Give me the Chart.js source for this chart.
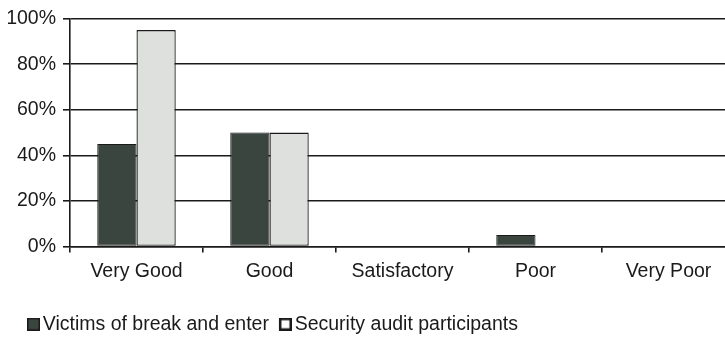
<!DOCTYPE html>
<html>
<head>
<meta charset="utf-8">
<script src="https://cdn.jsdelivr.net/npm/chart.js@4/dist/chart.umd.min.js"></script>
<style>
  html, body { margin: 0; padding: 0; background: #fff; overflow: hidden; width: 725px; height: 337px; }
  #wrap { width: 735px; height: 344px; }
</style>
</head>
<body>
<div id="wrap"><canvas id="ratingChart"></canvas></div>
<script>
'use strict';

const ratings = ['Very Good', 'Good', 'Satisfactory', 'Poor', 'Very Poor'];
const victims = [45, 50, 0, 5, 0];
const auditors = [95, 50, 0, 0, 0];
const yTicks = [0, 20, 40, 60, 80, 100];

const ink = '#1a1a1a';
const darkFill = '#3b4540';
const lightFill = '#dee0de';
Chart.defaults.font.family = '"Liberation Sans", Arial, sans-serif';
Chart.defaults.font.size = 19.5;
Chart.defaults.color = ink;

// legend swatches: box sits at the right of a small canvas so the
// label text starts just past it
function makeSwatch(fill, border, lw) {
  let c = document.createElement('canvas');
  c.width = 20; c.height = 13;
  let g = c.getContext('2d');
  g.fillStyle = fill;
  g.fillRect(7, 0, 13, 13);
  g.strokeStyle = border;
  g.lineWidth = lw;
  g.strokeRect(7 + lw / 2, lw / 2, 13 - lw, 13 - lw);
  return c;
}
const legendMarks = [
  makeSwatch(darkFill, ink, 1.5),
  makeSwatch('#ffffff', ink, 2.5)
];

// nudge the legend right of the canvas edge
const legendShift = {
  id: 'legendShift',
  afterLayout: function(chart) {
    chart.legend.left += 9;
    chart.legend.right += 9;
  }
};

let ctx = document.getElementById('ratingChart').getContext('2d');

new Chart(ctx, {
  type: 'bar',
  data: {
    labels: ratings,
    datasets: [
      {
        label: 'Victims of break and enter',
        data: victims,
        backgroundColor: darkFill,
        borderColor: ink,
        borderWidth: 1,
        borderSkipped: false
      },
      {
        label: 'Security audit participants',
        data: auditors,
        backgroundColor: lightFill,
        borderColor: ink,
        borderWidth: 1.3,
        borderSkipped: false
      }
    ]
  },
  plugins: [legendShift],
  options: {
    responsive: true,
    maintainAspectRatio: false,
    animation: false,
    categoryPercentage: 0.59,
    barPercentage: 1.0,
    layout: { padding: { left: 8, top: 8, right: 0, bottom: 0 } },
    plugins: {
      tooltip: { enabled: false },
      legend: {
        position: 'bottom',
        align: 'start',
        labels: {
          usePointStyle: true,
          pointStyleWidth: 6,
          boxHeight: 13,
          padding: 10,
          color: ink,
          generateLabels: function(chart) {
            let items = Chart.defaults.plugins.legend.labels.generateLabels(chart);
            items.forEach((item, i) => { item.pointStyle = legendMarks[i]; });
            return items;
          }
        }
      }
    },
    scales: {
      x: {
        afterFit: function(scale) { scale.height = 58; },
        grid: {
          drawOnChartArea: false,
          drawTicks: true,
          tickLength: 6,
          color: ink,
          lineWidth: 1.6,
          offset: true
        },
        border: { color: ink, width: 1.6 },
        ticks: { padding: 7, color: ink }
      },
      y: {
        min: 0,
        max: 100,
        afterFit: function(scale) { scale.width = 62; },
        afterBuildTicks: function(scale) {
          scale.ticks = yTicks.map(v => ({ value: v }));
        },
        grid: {
          color: ink,
          lineWidth: 1.6,
          tickLength: 7
        },
        border: { color: ink, width: 1.6 },
        ticks: {
          padding: 7,
          color: ink,
          callback: v => v + '%'
        }
      }
    }
  }
});
</script>
</body>
</html>
